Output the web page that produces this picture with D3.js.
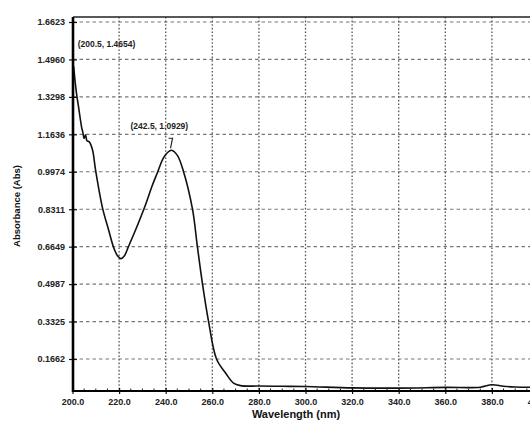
<!DOCTYPE html>
<html><head><meta charset="utf-8">
<script src="https://cdn.jsdelivr.net/npm/d3@7"></script>
<style>body{margin:0;background:#fff}svg{display:block}</style>
</head><body>
<svg id="c" width="530" height="421"></svg>
<script>
const wavelength = [200.5,201.0,201.7,202.6,203.9,204.5,205.0,205.6,206.2,207.2,208.6,209.9,212.9,215.5,217.6,219.3,220.8,222.3,224.0,227.5,231.3,234.0,236.5,238.8,240.8,242.5,245.0,247.6,251.5,253.6,255.8,258.4,261.8,265.7,269.1,272.1,280,290,300,320,340,360,375,380,385,390,400];
const absorbance = [1.4654,1.41,1.347,1.285,1.196,1.17,1.145,1.162,1.135,1.13,1.094,1.005,0.836,0.739,0.663,0.625,0.612,0.625,0.665,0.750,0.850,0.930,0.995,1.055,1.083,1.0929,1.07,1.0,0.8311,0.6649,0.4987,0.3325,0.1662,0.104,0.059,0.048,0.046,0.045,0.044,0.038,0.037,0.040,0.041,0.052,0.045,0.042,0.040];
const xTicks = [200,220,240,260,280,300,320,340,360,380,400];
const yTicks = [0.1662,0.3325,0.4987,0.6649,0.8311,0.9974,1.1636,1.3298,1.4960,1.6623];
const annotations = [{w:200.5,a:1.4654,label:"(200.5, 1.4654)"},{w:242.5,a:1.0929,label:"(242.5, 1.0929)"}];

const svg = d3.select("#c");
const L=73, T=17, B=391;
const x = d3.scaleLinear().domain([200,400]).range([72.5,538.5]);
const y = d3.scaleLinear().domain([0.0241,1.6845]).range([B,T]);
const font = "'Liberation Sans', Arial, sans-serif";

// grid
svg.append("g").selectAll("line").data(yTicks).join("line")
  .attr("x1",L).attr("x2",530).attr("y1",d=>y(d)).attr("y2",d=>y(d))
  .attr("stroke","#777").attr("stroke-width",1.2).attr("stroke-dasharray","3.5,3");
svg.append("g").selectAll("line").data(xTicks.slice(1)).join("line")
  .attr("x1",d=>x(d)).attr("x2",d=>x(d)).attr("y1",T).attr("y2",B)
  .attr("stroke","#555").attr("stroke-width",1.3).attr("stroke-dasharray","1.6,2");

// curve
const line = d3.line().x((d,i)=>x(wavelength[i])).y(d=>y(d)).curve(d3.curveCatmullRom.alpha(0.5));
svg.append("path").attr("d",line(absorbance)).attr("fill","none")
  .attr("stroke","#111").attr("stroke-width",1.6);

// axes
const yAxis = d3.axisLeft(y).tickValues(yTicks).tickFormat(d3.format(".4f")).tickSizeInner(4).tickSizeOuter(0).tickPadding(4);
const gy = svg.append("g").attr("transform",`translate(${L},0)`).call(yAxis);
const xAxis = d3.axisBottom(x).tickValues(xTicks).tickFormat(d3.format(".1f")).tickSizeInner(3).tickSizeOuter(0).tickPadding(5);
const gx = svg.append("g").attr("transform",`translate(0,${B})`).call(xAxis);
[gy,gx].forEach(g=>{
  g.select(".domain").remove();
  g.selectAll("text").attr("font-family",font).attr("font-size",9).attr("fill","#222").attr("font-weight","bold");
  g.selectAll(".tick line").attr("stroke","#111").attr("stroke-width",1.2);
});
gy.selectAll(".tick line").attr("x1",-4).attr("x2",4);
gx.selectAll(".tick line").attr("y1",-3).attr("y2",3);
// minor ticks bottom
const minor = d3.range(205,400,5).filter(v=>v%20!==0);
svg.append("g").selectAll("line").data(minor).join("line")
  .attr("x1",d=>x(d)).attr("x2",d=>x(d)).attr("y1",B-2.5).attr("y2",B)
  .attr("stroke","#222").attr("stroke-width",1);

svg.append("line").attr("x1",L).attr("x2",L).attr("y1",T).attr("y2",B+1).attr("stroke","#000").attr("stroke-width",2.6);
svg.append("line").attr("x1",L-1).attr("x2",530).attr("y1",B).attr("y2",B).attr("stroke","#000").attr("stroke-width",2.2);
svg.append("line").attr("x1",L).attr("x2",530).attr("y1",T).attr("y2",T).attr("stroke","#222").attr("stroke-width",1.5);

// annotations
svg.append("text").attr("x",x(annotations[0].w)+4).attr("y",47).text(annotations[0].label)
  .attr("font-family",font).attr("font-size",8.5).attr("font-weight","bold").attr("fill","#222");
svg.append("text").attr("x",x(annotations[1].w)-41).attr("y",129).text(annotations[1].label)
  .attr("font-family",font).attr("font-size",8.5).attr("font-weight","bold").attr("fill","#222");
const px=x(annotations[1].w), py=y(annotations[1].a);
svg.append("path").attr("d",`M${px-3},${py-12}H${px+1}L${px-1},${py-2}`).attr("fill","none").attr("stroke","#222").attr("stroke-width",1.2);

// titles
svg.append("text").attr("x",296).attr("y",418).attr("text-anchor","middle").text("Wavelength (nm)")
  .attr("font-family",font).attr("font-size",11).attr("font-weight","bold").attr("fill","#111");
svg.append("text").attr("transform","translate(20,206) rotate(-90)").attr("text-anchor","middle").text("Absorbance (Abs)")
  .attr("font-family",font).attr("font-size",9.5).attr("font-weight","bold").attr("fill","#111");
</script>
</body></html>
